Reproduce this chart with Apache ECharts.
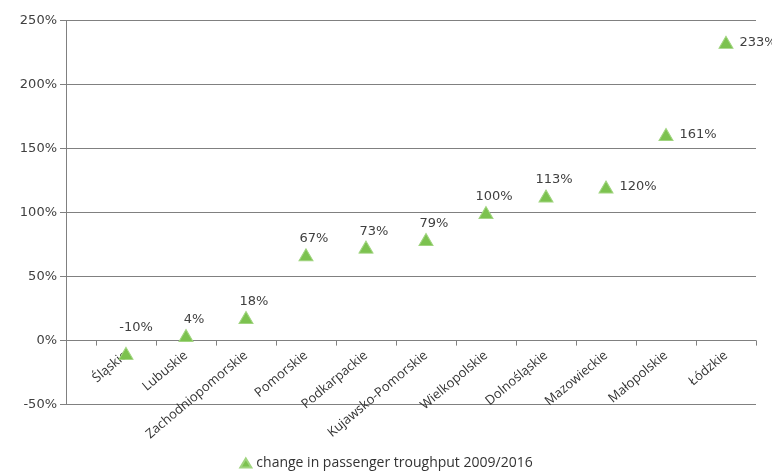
<!DOCTYPE html>
<html><head><meta charset="utf-8">
<script src="https://cdn.jsdelivr.net/npm/echarts@6/dist/echarts.min.js"></script>
<style>html,body{margin:0;padding:0;background:#fff}#c{width:772px;height:475px}</style>
</head><body><div id="c"></div>
<script>
const categories = ['Śląskie','Lubuskie','Zachodniopomorskie','Pomorskie','Podkarpackie','Kujawsko-Pomorskie','Wielkopolskie','Dolnośląskie','Mazowieckie','Małopolskie','Łódzkie'];
const values = [-10, 4, 18, 67, 73, 79, 100, 113, 120, 161, 233];
const labelSide = ['top','top','top','top','top','top','top','top','right','right','right'];
const yTicks = [-50, 0, 50, 100, 150, 200, 250];
const seriesName = 'change in passenger troughput 2009/2016';

const chart = echarts.init(document.getElementById('c'));
const data = values.map((v, i) => {
  const side = labelSide[i];
  const label = side === 'right'
    ? { position: 'right', distance: 6, offset: [0, 0] }
    : { position: 'top', distance: 3, offset: i === 0 ? [10, -10] : [8, 0] };
  return { value: [i, v], label };
});
const catTicks = categories.map((_, i) => i - 0.5).concat([categories.length - 0.5]);
const gridTop = 20.6, gridBottom = 70.4, plotH = 475 - gridTop - gridBottom;
const zeroOffset = -plotH * (0 - yTicks[0]) / (yTicks[yTicks.length - 1] - yTicks[0]);
chart.setOption({
  animation: false,
  grid: { left: 66, right: 16, top: gridTop, bottom: gridBottom, containLabel: false, outerBoundsMode: 'none' },
  xAxis: {
    type: 'value', min: -1, max: categories.length - 0.5, position: 'bottom', offset: zeroOffset,
    axisLine: { onZero: false, lineStyle: { color: '#808080', width: 1 } },
    axisTick: { show: true, length: 5, customValues: catTicks, lineStyle: { color: '#808080' } },
    axisLabel: {
      customValues: categories.map((_, i) => i),
      formatter: v => categories[Math.round(v)] || '',
      rotate: 40, margin: 13, fontFamily: 'Open Sans', fontSize: 13, color: '#333'
    },
    splitLine: { show: false }
  },
  yAxis: {
    type: 'value', min: yTicks[0], max: yTicks[yTicks.length - 1], interval: 50,
    axisLine: { show: true, onZero: false, lineStyle: { color: '#808080' } },
    axisTick: { show: true, length: 6, lineStyle: { color: '#808080' } },
    axisLabel: { formatter: v => v + '%', fontFamily: 'DejaVu Sans', fontSize: 13, color: '#404040', margin: 9 },
    splitLine: { show: true, lineStyle: { color: '#808080', width: 1 } }
  },
  legend: {
    bottom: 0, left: 'center', icon: 'triangle', itemWidth: 11, itemHeight: 9, itemGap: 4,
    textStyle: { fontFamily: 'Open Sans', fontSize: 14, color: '#333' },
    data: [seriesName]
  },
  series: [{
    name: seriesName, type: 'scatter', symbol: 'triangle', symbolSize: [14, 12],
    itemStyle: { color: '#7cc24f', borderColor: '#a0d47f', borderWidth: 1, opacity: 1 },
    label: { show: true, formatter: p => p.value[1] + '%', fontFamily: 'DejaVu Sans', fontSize: 13, color: '#404040' },
    data
  }]
});
</script></body></html>
